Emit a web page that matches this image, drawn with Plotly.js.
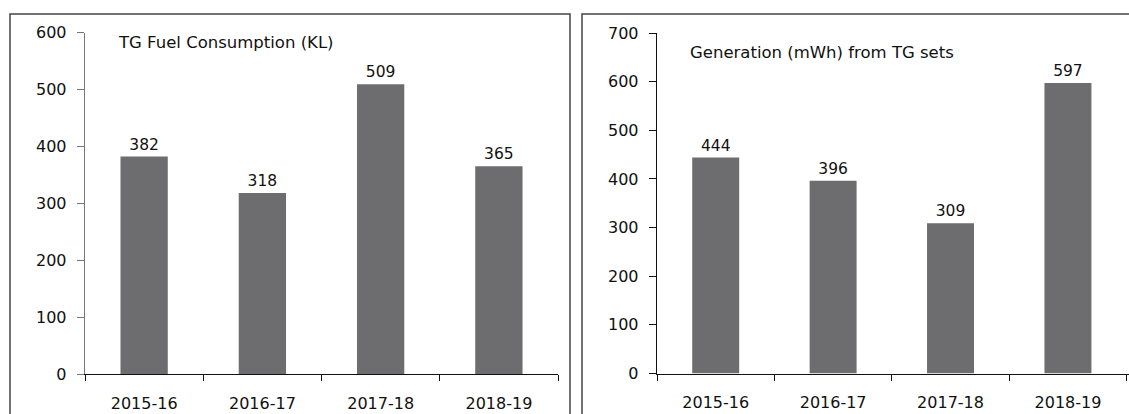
<!DOCTYPE html>
<html>
<head>
<meta charset="utf-8">
<script src="https://cdn.plot.ly/plotly-3.0.1.min.js"></script>
<style>
  html, body { margin: 0; padding: 0; background: #fff; }
  #chart { width: 1129px; height: 414px; }
</style>
</head>
<body>
<div id="chart"></div>
<script>
const years = ["2015-16", "2016-17", "2017-18", "2018-19"];
const fuelConsumption = [382, 318, 509, 365];
const generation = [444, 396, 309, 597];
const fuelTitle = "TG Fuel Consumption (KL)";
const genTitle = "Generation (mWh) from TG sets";

const W = 1129, H = 414;
const FONT = "DejaVu Sans, Open Sans, sans-serif";
const barColor = "#6d6d6f";

function px(x) { return x / W; }
function py(y) { return 1 - y / H; }

const traces = [
  {
    type: "bar", x: years, y: fuelConsumption, xaxis: "x", yaxis: "y",
    marker: { color: barColor }, width: 0.4,
    text: fuelConsumption.map(String), textposition: "outside",
    textfont: { family: FONT, size: 15.5, color: "#111" }, cliponaxis: false,
    hoverinfo: "none"
  },
  {
    type: "bar", x: years, y: generation, xaxis: "x2", yaxis: "y2",
    marker: { color: barColor }, width: 0.4,
    text: generation.map(String), textposition: "outside",
    textfont: { family: FONT, size: 15.5, color: "#111" }, cliponaxis: false,
    hoverinfo: "none"
  }
];

const xCommon = {
  type: "category", range: [-0.5, 3.5], showgrid: false, zeroline: false,
  showline: true, linecolor: "#111", linewidth: 1.3,
  ticks: "outside", tickson: "boundaries", ticklen: 6, tickcolor: "#111", tickwidth: 1,
  tickfont: { family: FONT, size: 16, color: "#111" }, ticklabelstandoff: 14,
  fixedrange: true
};
const yCommon = {
  showgrid: false, zeroline: false, showline: true, linewidth: 1.3,
  ticks: "outside", ticklen: 7, tickwidth: 1, dtick: 100,
  tickfont: { family: FONT, size: 16, color: "#111" }, ticklabelstandoff: 7,
  fixedrange: true
};

const layout = {
  width: W, height: H,
  margin: { l: 0, r: 0, t: 0, b: 0 },
  paper_bgcolor: "#fff", plot_bgcolor: "#fff",
  showlegend: false,
  font: { family: FONT, size: 15, color: "#111" },
  xaxis: Object.assign({}, xCommon, { domain: [px(85), px(558)], anchor: "y" }),
  yaxis: Object.assign({}, yCommon, { domain: [py(374), py(32.5)], range: [0, 600], anchor: "x",
    linecolor: "#777", tickcolor: "#777" }),
  xaxis2: Object.assign({}, xCommon, { domain: [px(657), 1], anchor: "y2", range: [-0.5, 3.52] }),
  yaxis2: Object.assign({}, yCommon, { domain: [py(373.5), py(33)], range: [0, 700], anchor: "x2",
    linecolor: "#111", tickcolor: "#111" }),
  annotations: [
    { text: fuelTitle, xref: "paper", yref: "paper", x: px(116), y: py(42),
      xanchor: "left", yanchor: "middle", showarrow: false,
      font: { family: FONT, size: 16.5, color: "#111" } },
    { text: genTitle, xref: "paper", yref: "paper", x: px(688), y: py(52),
      xanchor: "left", yanchor: "middle", showarrow: false,
      font: { family: FONT, size: 16.5, color: "#111" } }
  ],
  shapes: [
    { type: "rect", xref: "paper", yref: "paper", x0: px(10), x1: px(570), y0: py(420), y1: py(14),
      line: { color: "#444", width: 1.5 }, fillcolor: "rgba(0,0,0,0)", layer: "below" },
    { type: "rect", xref: "paper", yref: "paper", x0: px(582), x1: px(1140), y0: py(420), y1: py(14),
      line: { color: "#444", width: 1.5 }, fillcolor: "rgba(0,0,0,0)", layer: "below" }
  ]
};

Plotly.newPlot("chart", traces, layout, { displayModeBar: false, staticPlot: true });
</script>
</body>
</html>
